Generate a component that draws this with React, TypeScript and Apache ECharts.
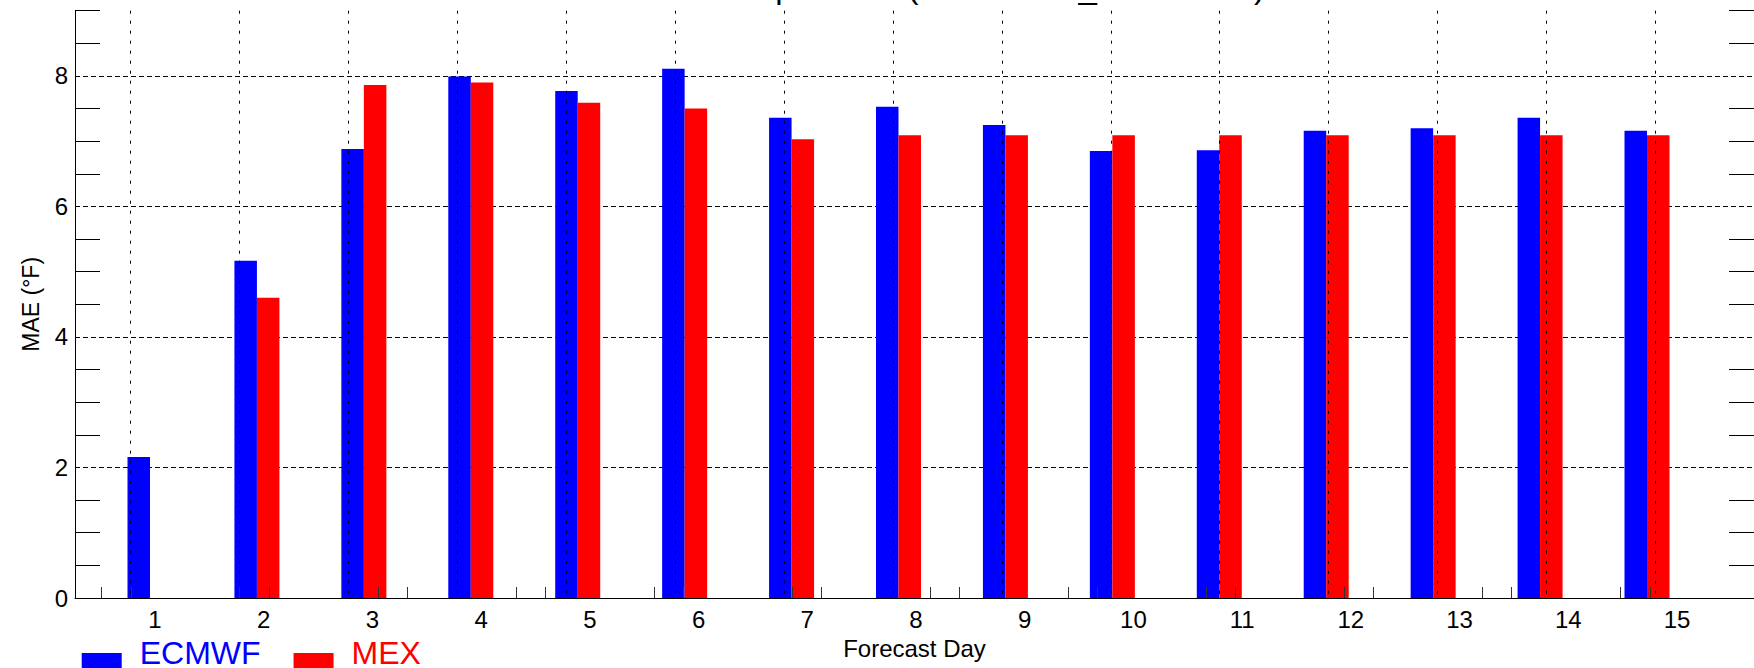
import React, { useEffect, useRef } from "react";
import * as echarts from "echarts";

const FONT = "'Liberation Sans', Arial, Helvetica, sans-serif";

const TITLE = "Max 2m Temperature (STATIONS_AVERAGE)";
const X_NAME = "Forecast Day";
const Y_NAME = "MAE (\u00b0F)";

const DAYS = ["1", "2", "3", "4", "5", "6", "7", "8", "9", "10", "11", "12", "13", "14", "15"];
const ECMWF_NAME = "ECMWF";
const MEX_NAME = "MEX";
const ECMWF = [2.16, 5.17, 6.88, 7.99, 7.77, 8.11, 7.36, 7.53, 7.25, 6.85, 6.86, 7.16, 7.2, 7.36, 7.16];
const MEX = [null, 4.6, 7.86, 7.9, 7.59, 7.5, 7.03, 7.09, 7.09, 7.09, 7.09, 7.09, 7.09, 7.09, 7.09];

const Y_MIN = 0;
const Y_MAX = 9;
const Y_LABEL_STEP = 2;
const Y_MINOR_TICKS = [0.5, 1, 1.5, 2.5, 3, 3.5, 4.5, 5, 5.5, 6.5, 7, 7.5, 8.5, 9];

// two interleaved sets of small bottom ticks (decoration of the original plot)
const BOTTOM_TICKS_A = ["a0", "a1", "a2", "a3", "a4", "a5", "a6", "a7", "a8", "a9", "a10", "a11"];
const BOTTOM_TICKS_B = ["b0", "b1", "b2", "b3", "b4", "b5", "b6", "b7", "b8", "b9", "b10", "b11"];

const TOP = 10.7;
const BOTTOM = 70;

export default function App() {
  const ref = useRef<HTMLDivElement>(null);

  useEffect(() => {
    if (!ref.current) return;
    const chart = echarts.init(ref.current, null, { renderer: "svg" });
    const hiddenY = (gridIndex: number) => ({
      type: "value",
      gridIndex,
      min: Y_MIN,
      max: Y_MAX,
      show: false,
    });
    const minorTickAxis = (position: string) => ({
      type: "value",
      gridIndex: 0,
      position,
      min: Y_MIN,
      max: Y_MAX,
      axisLine: { show: position === "right", lineStyle: { color: "#000", width: 1 } },
      axisTick: {
        show: true,
        inside: true,
        length: 25,
        customValues: Y_MINOR_TICKS,
        lineStyle: { color: "#000", width: 1 },
      },
      axisLabel: { show: false },
      splitLine: { show: false },
      splitArea: { show: false },
    });
    const option: any = {
      animation: false,
      backgroundColor: "#ffffff",
      textStyle: { fontFamily: FONT },
      grid: [
        { left: 75, right: -10, top: TOP, bottom: BOTTOM },
        { left: 150, right: 107, top: TOP, bottom: BOTTOM },
        { left: 130.7, right: 98.7, top: TOP, bottom: BOTTOM },
        { left: 155, right: 77, top: TOP, bottom: BOTTOM },
        { left: 130.9, right: 104.2, top: TOP, bottom: BOTTOM },
        { left: 101.7, right: 134, top: TOP, bottom: BOTTOM },
      ],
      graphic: [
        {
          type: "text",
          x: 1265,
          y: -13.9,
          silent: true,
          style: {
            text: TITLE,
            fontSize: 33,
            fontFamily: FONT,
            fill: "#000",
            align: "right",
            verticalAlign: "middle",
          },
        },
      ],
      legend: {
        left: 81.7,
        top: 633,
        padding: 0,
        itemGap: 33,
        itemWidth: 40,
        itemHeight: 40,
        icon: "path://M0,0M0,20L40,20L40,40L0,40Z",
        textStyle: { fontSize: 32, lineHeight: 28, fontFamily: FONT, padding: [0, 0, 0, 13] },
        data: [
          { name: ECMWF_NAME, textStyle: { color: "#0000ff" } },
          { name: MEX_NAME, textStyle: { color: "#ff0000" } },
        ],
      },
      xAxis: [
        {
          type: "value",
          gridIndex: 0,
          min: 0,
          max: 1,
          axisLine: { show: true, lineStyle: { color: "#000", width: 1 } },
          axisTick: { show: false },
          axisLabel: { show: false },
          splitLine: { show: false },
          name: X_NAME,
          nameLocation: "middle",
          nameGap: 38,
          nameTextStyle: { fontSize: 24, color: "#000", fontFamily: FONT },
        },
        {
          type: "category",
          gridIndex: 1,
          data: DAYS,
          boundaryGap: false,
          show: false,
        },
        {
          type: "category",
          gridIndex: 2,
          data: DAYS,
          boundaryGap: false,
          z: 5,
          axisLine: { show: false },
          axisTick: { show: false },
          axisLabel: { show: false },
          splitLine: {
            show: true,
            interval: 0,
            lineStyle: { color: "#000", width: 1, type: [3, 7] },
          },
        },
        {
          type: "category",
          gridIndex: 3,
          data: DAYS,
          boundaryGap: false,
          axisLine: { show: false },
          axisTick: { show: false },
          splitLine: { show: false },
          axisLabel: { interval: 0, fontSize: 24, color: "#000", margin: 9, fontFamily: FONT },
        },
        {
          type: "category",
          gridIndex: 4,
          data: BOTTOM_TICKS_A,
          boundaryGap: false,
          z: 5,
          axisLine: { show: false },
          axisTick: { show: true, inside: true, length: 11, interval: 0, lineStyle: { color: "#333", width: 1 } },
          axisLabel: { show: false },
          splitLine: { show: false },
        },
        {
          type: "category",
          gridIndex: 5,
          data: BOTTOM_TICKS_B,
          boundaryGap: false,
          z: 5,
          axisLine: { show: false },
          axisTick: { show: true, inside: true, length: 11, interval: 0, lineStyle: { color: "#333", width: 1 } },
          axisLabel: { show: false },
          splitLine: { show: false },
        },
      ],
      yAxis: [
        {
          type: "value",
          gridIndex: 0,
          position: "left",
          min: Y_MIN,
          max: Y_MAX,
          interval: Y_LABEL_STEP,
          axisLine: { show: true, lineStyle: { color: "#000", width: 1 } },
          axisTick: { show: false },
          axisLabel: { fontSize: 24, color: "#000", margin: 7, showMaxLabel: false, fontFamily: FONT },
          splitLine: {
            show: true,
            showMinLine: false,
            showMaxLine: false,
            lineStyle: { color: "#000", width: 1, type: [5, 3] },
          },
          name: Y_NAME,
          nameLocation: "middle",
          nameGap: 33,
          nameRotate: 90,
          nameTextStyle: { fontSize: 23, color: "#000", fontFamily: FONT },
        },
        minorTickAxis("left"),
        minorTickAxis("right"),
        hiddenY(1),
        hiddenY(2),
        hiddenY(3),
        hiddenY(4),
        hiddenY(5),
      ],
      series: [
        {
          name: ECMWF_NAME,
          type: "bar",
          xAxisIndex: 1,
          yAxisIndex: 3,
          data: ECMWF,
          barWidth: 22.5,
          barGap: "0%",
          clip: false,
          itemStyle: { color: "#0000ff" },
        },
        {
          name: MEX_NAME,
          type: "bar",
          xAxisIndex: 1,
          yAxisIndex: 3,
          data: MEX,
          barWidth: 22.5,
          barGap: "0%",
          clip: false,
          itemStyle: { color: "#ff0000" },
        },
      ],
    };
    chart.setOption(option);
    return () => {
      chart.dispose();
    };
  }, []);

  return (
    <div
      ref={ref}
      style={{ position: "absolute", left: 0, top: 0, width: 1754, height: 668, background: "#fff" }}
    />
  );
}
